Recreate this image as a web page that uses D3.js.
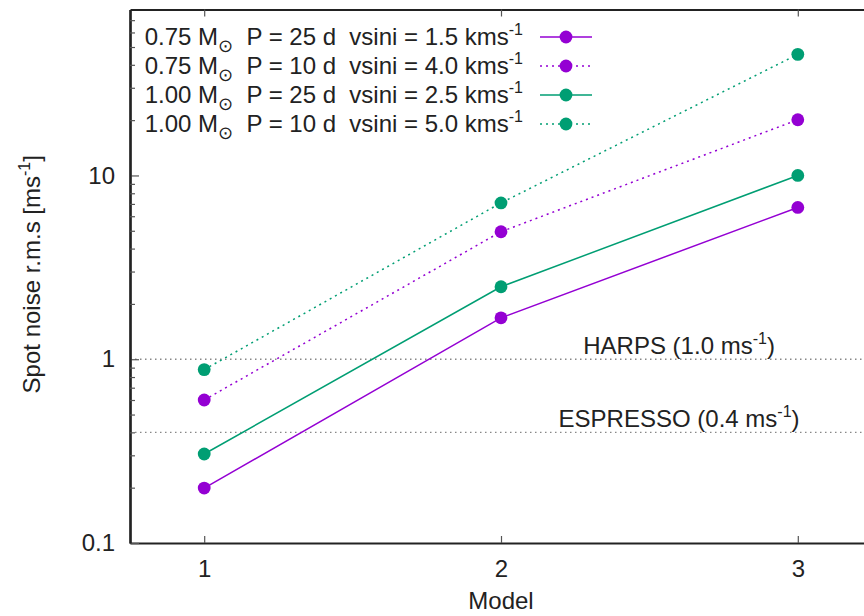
<!DOCTYPE html>
<html><head><meta charset="utf-8">
<script src="https://cdn.jsdelivr.net/npm/d3@7"></script>
<style>
html,body{margin:0;padding:0;background:#fff;}
svg{display:block;font-family:"Liberation Sans",Arial,Helvetica,sans-serif;}
</style></head>
<body>
<script>
const models = [1, 2, 3];
const s075_25 = [0.199, 1.68, 6.70];
const s075_10 = [0.60, 4.94, 20.1];
const s100_25 = [0.305, 2.48, 10.0];
const s100_10 = [0.878, 7.09, 45.6];
const seriesMass = ["0.75", "0.75", "1.00", "1.00"];
const seriesPeriod = ["25", "10", "25", "10"];
const seriesVsini = ["1.5", "4.0", "2.5", "5.0"];
const seriesColor = ["#9400d3", "#9400d3", "#009e73", "#009e73"];
const seriesDotted = [false, true, false, true];
const seriesValues = [s075_25, s075_10, s100_25, s100_10];
const xTicks = [1, 2, 3];
const yMajor = [0.1, 1, 10];
const yMinor = [0.2,0.3,0.4,0.5,0.6,0.7,0.8,0.9,2,3,4,5,6,7,8,9,20,30,40,50,60,70];
const refLines = [{v:1.0, name:"HARPS", lab:"1.0"}, {v:0.4, name:"ESPRESSO", lab:"0.4"}];

const W = 864, H = 616;
const FS = 24, SUP = 16;
const svg = d3.select("body").append("svg").attr("width", W).attr("height", H);
const L = 130, T = 9.5, B = 543, R = 872;
const x = d3.scaleLinear().domain([0.75, 3.25]).range([L, R]);
const y = d3.scaleLog().domain([0.1, 80]).range([B, T]);
const ink = "#222";

// reference lines
refLines.forEach((r, i) => {
  svg.append("line").attr("x1", L).attr("x2", W).attr("y1", y(r.v)).attr("y2", y(r.v))
    .attr("stroke", "#888").attr("stroke-width", 1.3).attr("stroke-dasharray", "1.5,3.5");
  const t = svg.append("text").attr("x", x(2.6)).attr("y", y(r.v) - 5)
    .attr("text-anchor", "middle").attr("font-size", FS).attr("fill", ink);
  t.append("tspan").text(r.name + " (" + r.lab + " ms");
  t.append("tspan").attr("font-size", SUP).attr("dy", -10).text("-1");
  t.append("tspan").attr("dy", 10).text(")");
});

// series
const line = d3.line().x((d, i) => x(models[i])).y(d => y(d));
seriesValues.forEach((vals, k) => {
  svg.append("path").datum(vals).attr("d", line).attr("fill", "none")
    .attr("stroke", seriesColor[k]).attr("stroke-width", 1.5)
    .attr("stroke-dasharray", seriesDotted[k] ? "2,4" : null);
  svg.selectAll(null).data(vals).enter().append("circle")
    .attr("cx", (d, i) => x(models[i])).attr("cy", d => y(d)).attr("r", 6.4)
    .attr("fill", seriesColor[k]);
});

// axes
const gx = svg.append("g").attr("transform", `translate(0,${B})`)
  .call(d3.axisBottom(x).tickValues(xTicks).tickFormat(d3.format("d")).tickSizeInner(-7).tickSizeOuter(0).tickPadding(17));
const gxt = svg.append("g").attr("transform", `translate(0,${T})`)
  .call(d3.axisTop(x).tickValues(xTicks).tickFormat("").tickSizeInner(-7).tickSizeOuter(0));
const gy = svg.append("g").attr("transform", `translate(${L},0)`)
  .call(d3.axisLeft(y).tickValues(yMajor).tickFormat(d => d3.format("")(d)).tickSizeInner(-9).tickSizeOuter(0).tickPadding(15));
const gym = svg.append("g").attr("transform", `translate(${L},0)`)
  .call(d3.axisLeft(y).tickValues(yMinor).tickFormat("").tickSizeInner(-5).tickSizeOuter(0));
[gx, gxt, gy, gym].forEach(g => {
  g.select(".domain").attr("stroke", ink).attr("stroke-width", 2.2);
  g.selectAll(".tick line").attr("stroke", "#555").attr("stroke-width", 1.2);
  g.selectAll("text").attr("font-size", FS).attr("fill", ink).attr("font-family", "Liberation Sans, Arial, sans-serif");
});
gx.selectAll("text").attr("dy", "0.71em");

// axis titles
svg.append("text").attr("x", x(2)).attr("y", 609).attr("text-anchor", "middle")
  .attr("font-size", FS).attr("fill", ink).text("Model");
const yt = svg.append("text").attr("transform", `translate(40,${(T + B) / 2 - 2}) rotate(-90)`)
  .attr("text-anchor", "middle").attr("font-size", FS).attr("fill", ink);
yt.append("tspan").text("Spot noise r.m.s [ms");
yt.append("tspan").attr("font-size", SUP).attr("dy", -10).text("-1");
yt.append("tspan").attr("dy", 10).text("]");

// legend
const legY0 = 45, legDY = 29;
seriesColor.forEach((c, k) => {
  const yy = legY0 + k * legDY;
  const t = svg.append("text").attr("x", 523).attr("y", yy).attr("text-anchor", "end")
    .attr("font-size", FS).attr("fill", ink).attr("xml:space", "preserve");
  t.append("tspan").text(seriesMass[k] + " M");
  t.append("tspan").attr("font-size", 18).attr("dy", 7).text("\u2299");
  t.append("tspan").attr("dy", -7).text("  P = " + seriesPeriod[k] + " d  vsini = " + seriesVsini[k] + " kms");
  t.append("tspan").attr("font-size", SUP).attr("dy", -10).text("-1");
  svg.append("line").attr("x1", 540).attr("x2", 592).attr("y1", yy - 8).attr("y2", yy - 8)
    .attr("stroke", c).attr("stroke-width", 1.5).attr("stroke-dasharray", seriesDotted[k] ? "2,4" : null);
  svg.append("circle").attr("cx", 566).attr("cy", yy - 8).attr("r", 6.4).attr("fill", c);
});
</script>
</body></html>
